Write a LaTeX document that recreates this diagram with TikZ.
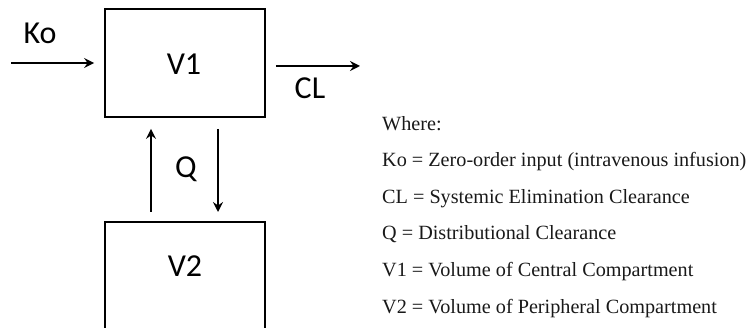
\documentclass[tikz,border=0pt]{standalone}
\usepackage{fontspec}
\setmainfont{Liberation Serif}
\newfontfamily\diagfont{Carlito}
\usetikzlibrary{arrows.meta}
\tikzset{
  box/.style={draw=black, line width=1.8pt, minimum width=160pt, minimum height=108pt, inner sep=0pt},
  lbl/.style={font=\diagfont\fontsize{32}{38}\selectfont, inner sep=0pt, anchor=base},
  arr/.style={line width=1.7pt, -{Stealth[length=10pt,width=10pt,inset=3.5pt]}},
  legend/.style={font=\fontsize{20.2}{24}\selectfont, inner sep=0pt, anchor=base west, text=black!90}
}
\begin{document}
\begin{tikzpicture}[x=1pt,y=-1pt]
\useasboundingbox (0,0) rectangle (749,328);
\clip (0,0) rectangle (749,328);
% boxes
\node[box] (V1) at (185,63) {};
\node[box, anchor=north] (V2) at (185,221) {};
\node[lbl] (V1t) at (184,75) {V1};
\node[lbl] (V2t) at (185,277) {V2};
% labels
\node[lbl] (Ko) at (40,44) {Ko};
\node[lbl] (CL) at (310,99) {CL};
\node[lbl] (Q) at (186,178) {Q};
% free ends
\coordinate (kostart) at (11,63);
\coordinate (clend) at (360,66);
\coordinate (upx) at (151,0);
\coordinate (dnx) at (218,0);
% connectors
\draw[arr, shorten >=10pt] (kostart) -- (V1.west |- kostart);
\draw[arr, shorten <=10pt] (V1.east |- clend) -- (clend);
\draw[arr, shorten <=9pt, shorten >=11pt] (V2.north -| upx) -- (V1.south -| upx);
\draw[arr, shorten <=11pt, shorten >=9pt] (V1.south -| dnx) -- (V2.north -| dnx);
% legend
\node[legend] (w) at (382,130.5) {Where:};
\node[legend] (l1) at (382,167) {Ko = Zero-order input (intravenous infusion)};
\node[legend] (l2) at (382,203.5) {CL = Systemic Elimination Clearance};
\node[legend] (l3) at (382,240) {Q = Distributional Clearance};
\node[legend] (l4) at (382,276.5) {V1 = Volume of Central Compartment};
\node[legend] (l5) at (382,313) {V2 = Volume of Peripheral Compartment};
\end{tikzpicture}
\end{document}
